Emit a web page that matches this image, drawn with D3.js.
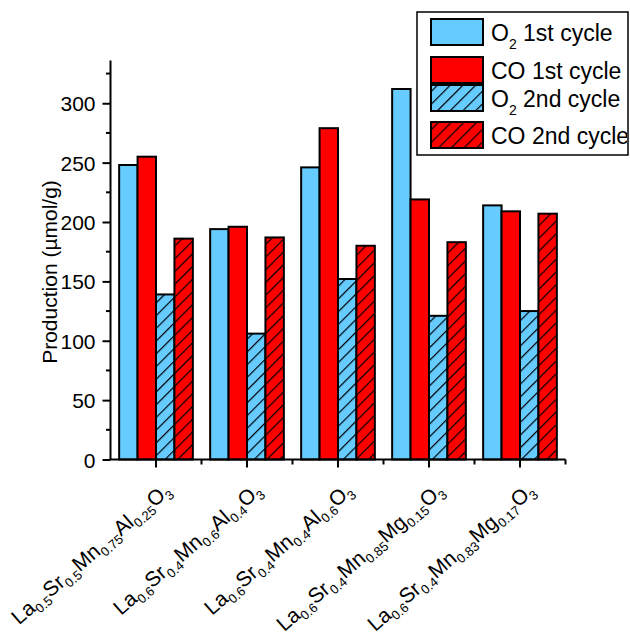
<!DOCTYPE html>
<html><head><meta charset="utf-8">
<script src="https://cdn.jsdelivr.net/npm/d3@7"></script>
<style>body{margin:0;background:#fff;overflow:hidden}svg{display:block}text{font-family:Arial,"Liberation Sans",sans-serif;fill:#000}</style>
</head><body>
<svg id="c" width="630" height="633"></svg>
<script>
const categories = ["La0.5Sr0.5Mn0.75Al0.25O3","La0.6Sr0.4Mn0.6Al0.4O3","La0.6Sr0.4Mn0.4Al0.6O3","La0.6Sr0.4Mn0.85Mg0.15O3","La0.6Sr0.4Mn0.83Mg0.17O3"];
const seriesNames = [["O","2"," 1st cycle"],["CO",""," 1st cycle"],["O","2"," 2nd cycle"],["CO",""," 2nd cycle"]];
const o2First = [248, 194, 246, 312, 214];
const coFirst = [255, 196, 279, 219, 209];
const o2Second = [139, 106, 152, 121, 125];
const coSecond = [186, 187, 180, 183, 207];
const yTicks = [0, 50, 100, 150, 200, 250, 300];
const yLabel = "Production (\u00b5mol/g)";

const series = [o2First, coFirst, o2Second, coSecond];
const fills = ["#66ccff", "#ff0000", "url(#hb)", "url(#hr)"];

const svg = d3.select("#c");
const defs = svg.append("defs");
[["hb","#66ccff"],["hr","#ff0000"]].forEach(([id,col])=>{
  const p = defs.append("pattern").attr("id",id).attr("patternUnits","userSpaceOnUse")
    .attr("width",9).attr("height",9).attr("patternTransform","rotate(45)");
  p.append("rect").attr("width",9).attr("height",9).attr("fill",col);
  p.append("line").attr("x1",0).attr("y1",0).attr("x2",0).attr("y2",9).attr("stroke","#000").attr("stroke-width",2.4);
});
defs.append("clipPath").attr("id","lgclip").append("rect").attr("x",417).attr("y",12).attr("width",210).attr("height",143);

const x0 = 110.5, x1 = 565.5, yb = 459.5, yt = 60.5;
const x = d3.scaleBand().domain(categories).range([x0, x1]).paddingInner(0.19).paddingOuter(0.095);
const xs = d3.scaleBand().domain(d3.range(4)).range([0, x.bandwidth()]);
const y = d3.scaleLinear().domain([0, 336]).range([yb, yt]);

// bars
categories.forEach((c, i) => {
  series.forEach((s, j) => {
    svg.append("rect")
      .attr("x", x(c) + xs(j)).attr("y", y(s[i]))
      .attr("width", xs.bandwidth()).attr("height", y(0) - y(s[i]))
      .attr("fill", fills[j]).attr("stroke", "#000").attr("stroke-width", 2);
  });
});

// y axis
const yAxis = d3.axisLeft(y).tickValues(yTicks).tickSize(8).tickSizeOuter(0);
const ga = svg.append("g").attr("transform", `translate(${x0},0)`).call(yAxis);
ga.select(".domain").attr("stroke-width", 2).attr("d", `M0,${yt}V${yb}`);
ga.selectAll(".tick line").attr("stroke-width", 2);
ga.selectAll(".tick text").attr("font-size", 21).attr("font-family", "Arial, 'Liberation Sans', sans-serif").attr("x", -15).attr("dy", "0.36em");
const minor = d3.range(25, 336, 50);
svg.append("g").selectAll("line").data(minor).join("line")
  .attr("x1", x0 - 4.5).attr("x2", x0).attr("y1", d => y(d)).attr("y2", d => y(d))
  .attr("stroke", "#000").attr("stroke-width", 2);

// x axis
svg.append("line").attr("x1", x0 - 1).attr("x2", x1).attr("y1", yb).attr("y2", yb).attr("stroke", "#000").attr("stroke-width", 2);
const step = (x1 - x0) / categories.length;
categories.forEach((c, i) => {
  const cx = x(c) + x.bandwidth() / 2;
  svg.append("line").attr("x1", cx).attr("x2", cx).attr("y1", yb).attr("y2", yb + 8).attr("stroke", "#000").attr("stroke-width", 2);
  const bx = x0 + step * (i + 1);
  svg.append("line").attr("x1", bx).attr("x2", bx).attr("y1", yb).attr("y2", yb + 5).attr("stroke", "#000").attr("stroke-width", 2);
  // label
  const parts = [...c.matchAll(/([A-Z][a-z]?)([\d.]*)/g)];
  const t = svg.append("text").attr("text-anchor", "end")
    .attr("transform", `translate(${cx + 16},${yb + 33}) rotate(-41)`).attr("font-size", 21);
  let down = false;
  parts.forEach(m => {
    const el = t.append("tspan").text(m[1]);
    if (down) { el.attr("dy", -5); down = false; }
    if (m[2]) {
      t.append("tspan").attr("font-size", 13).attr("dy", 5).text(m[2]);
      down = true;
    }
  });
});

// y label
svg.append("text").attr("transform", `translate(57,272) rotate(-90)`)
  .attr("text-anchor", "middle").attr("font-size", 21).text(yLabel);

// legend
const lg = svg.append("g");
lg.append("rect").attr("x", 417).attr("y", 12).attr("width", 211).attr("height", 143)
  .attr("fill", "#fff").attr("stroke", "#000").attr("stroke-width", 1.5);
const swY = [19, 57, 85, 122];
const lt = lg.append("g").attr("clip-path", "url(#lgclip)");
seriesNames.forEach((n, j) => {
  lg.append("rect").attr("x", 431).attr("y", swY[j]).attr("width", 52).attr("height", 26)
    .attr("fill", fills[j]).attr("stroke", "#000").attr("stroke-width", 2);
  const t = lt.append("text").attr("x", 491).attr("y", swY[j] + 21.5).attr("font-size", 23);
  t.append("tspan").text(n[0]);
  if (n[1]) {
    t.append("tspan").attr("font-size", 14).attr("dy", 8).text(n[1]);
    t.append("tspan").attr("dy", -8).text(n[2]);
  } else t.append("tspan").text(n[2]);
});
</script>
</body></html>
